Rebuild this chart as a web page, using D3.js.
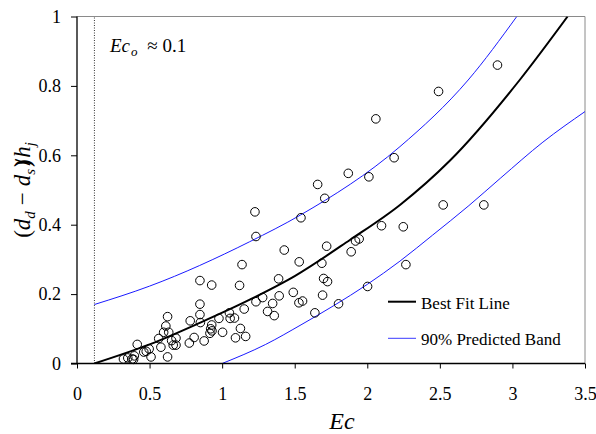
<!DOCTYPE html>
<html>
<head>
<meta charset="utf-8">
<script src="https://cdn.jsdelivr.net/npm/d3@7"></script>
<style>
  body { margin: 0; background: #fff; }
  svg text { font-family: "Liberation Serif", "Tinos", "DejaVu Serif", serif; }
</style>
</head>
<body>
<svg id="chart" width="596" height="434"></svg>
<script>
// observed points (Ec, normalised deformation)
const ecObs = [0.32, 0.35, 0.38, 0.395, 0.39, 0.415, 0.46, 0.477, 0.497, 0.51,
  0.563, 0.578, 0.597, 0.612, 0.624, 0.632, 0.624, 0.652, 0.663, 0.682,
  0.682, 0.774, 0.78, 0.807, 0.847, 0.928, 0.847, 0.847, 0.85, 0.876,
  0.916, 0.921, 0.93, 0.928, 0.978, 1.003, 1.05, 1.055, 1.085, 1.092,
  1.126, 1.162, 1.152, 1.12, 1.137, 1.226, 1.233, 1.233, 1.279, 1.313,
  1.348, 1.359, 1.393, 1.389, 1.428, 1.49, 1.529, 1.554, 1.531, 1.543,
  1.639, 1.658, 1.687, 1.692, 1.699, 1.707, 1.72, 1.726, 1.802, 1.869,
  1.889, 1.919, 1.944, 2.002, 2.011, 2.059, 2.098, 2.185, 2.248, 2.266,
  2.491, 2.523, 2.803, 2.897];
const ratioObs = [0.013, 0.016, 0.013, 0.022, 0.012, 0.055, 0.033, 0.035, 0.042, 0.019,
  0.072, 0.047, 0.09, 0.108, 0.135, 0.09, 0.019, 0.066, 0.053, 0.053,
  0.073, 0.059, 0.123, 0.075, 0.239, 0.226, 0.171, 0.141, 0.118, 0.065,
  0.087, 0.1, 0.094, 0.111, 0.13, 0.09, 0.146, 0.13, 0.131, 0.074,
  0.101, 0.078, 0.157, 0.225, 0.285, 0.437, 0.366, 0.178, 0.19, 0.15,
  0.173, 0.138, 0.195, 0.244, 0.327, 0.205, 0.175, 0.18, 0.293, 0.42,
  0.146, 0.516, 0.289, 0.197, 0.245, 0.476, 0.338, 0.236, 0.172, 0.548,
  0.322, 0.353, 0.359, 0.222, 0.538, 0.705, 0.397, 0.593, 0.394, 0.285,
  0.784, 0.457, 0.457, 0.86];

// best fit line
const fitEc  = [0.12, 0.5, 0.85, 1.19, 1.5, 1.88, 2.225, 2.57, 3.05, 3.38];
const fitVal = [0, 0.055, 0.118, 0.184, 0.252, 0.356, 0.457, 0.585, 0.817, 1.0];
// 90% predicted band
const upperEc  = [0.12, 0.5, 1.19, 1.54, 2.225, 2.695, 3.03];
const upperVal = [0.17, 0.223, 0.351, 0.428, 0.625, 0.817, 1.0];
const lowerEc  = [1.0, 1.3, 1.55, 1.77, 2.0, 2.225, 2.45, 2.7, 2.92, 3.21, 3.5];
const lowerVal = [0, 0.055, 0.113, 0.167, 0.228, 0.295, 0.37, 0.455, 0.535, 0.638, 0.726];

const ecZero = 0.12;
const xTicks = [0, 0.5, 1, 1.5, 2, 2.5, 3, 3.5];
const yTicks = [0, 0.2, 0.4, 0.6, 0.8, 1];

const serif = "'Liberation Serif', 'Tinos', 'DejaVu Serif', serif";

const svg = d3.select("#chart");
const x = d3.scaleLinear().domain([0, 3.5]).range([77, 585]);
const y = d3.scaleLinear().domain([0, 1]).range([363.5, 16.5]);

svg.append("defs").append("clipPath").attr("id", "plotClip")
  .append("rect")
  .attr("x", x(0)).attr("y", y(1))
  .attr("width", x(3.5) - x(0)).attr("height", y(0) - y(1));

// frame: grey top/right
svg.append("path")
  .attr("d", `M${x(0)},${y(1)}H${x(3.5)}V${y(0)}`)
  .attr("fill", "none").attr("stroke", "#8a8a8a").attr("stroke-width", 1);

// vertical dotted line at Ec_o
svg.append("line")
  .attr("x1", x(ecZero)).attr("x2", x(ecZero))
  .attr("y1", y(0)).attr("y2", y(1))
  .attr("stroke", "#333").attr("stroke-width", 1)
  .attr("stroke-dasharray", "1,1.5");

const plot = svg.append("g").attr("clip-path", "url(#plotClip)");
const line = d3.line().x(d => x(d[0])).y(d => y(d[1])).curve(d3.curveMonotoneX);

plot.append("path")
  .datum(upperEc.map((e, i) => [e, upperVal[i]]))
  .attr("d", line).attr("fill", "none").attr("stroke", "#1a1aff").attr("stroke-width", 1);
plot.append("path")
  .datum(lowerEc.map((e, i) => [e, lowerVal[i]]))
  .attr("d", line).attr("fill", "none").attr("stroke", "#1a1aff").attr("stroke-width", 1);
plot.append("path")
  .datum(fitEc.map((e, i) => [e, fitVal[i]]))
  .attr("d", line).attr("fill", "none").attr("stroke", "#000").attr("stroke-width", 2);

svg.append("g")
  .selectAll("circle")
  .data(ecObs.map((e, i) => [e, ratioObs[i]]))
  .join("circle")
  .attr("cx", d => x(d[0]))
  .attr("cy", d => y(d[1]))
  .attr("r", 4.3)
  .attr("fill", "none")
  .attr("stroke", "#000")
  .attr("stroke-width", 1);

// axes
const xAxis = svg.append("g")
  .attr("transform", `translate(0,${y(0)})`)
  .call(d3.axisBottom(x).tickValues(xTicks).tickSize(5).tickPadding(19).tickFormat(d3.format("")));
const yAxis = svg.append("g")
  .attr("transform", `translate(${x(0)},0)`)
  .call(d3.axisLeft(y).tickValues(yTicks).tickSize(6).tickPadding(10).tickFormat(d3.format("")));

[xAxis, yAxis].forEach(a => {
  a.attr("font-family", null);
  a.select(".domain").attr("stroke", "#000").attr("stroke-width", 1.3);
  a.selectAll(".tick line").attr("stroke", "#000");
  a.selectAll(".tick text")
    .style("font-family", serif)
    .style("font-size", "18px").attr("fill", "#000");
});
xAxis.select(".domain").attr("d", `M${x(0) - 6},0H${x(3.5)}`);
yAxis.select(".domain").attr("d", `M0,${y(0)}V${y(1)}`);

// Ec_o annotation
const ann = svg.append("text").attr("x", 110).attr("y", 52)
  .style("font-family", serif).style("font-size", "19px");
ann.append("tspan").text("Ec").style("font-style", "italic");
ann.append("tspan").text("o").style("font-style", "italic").style("font-size", "13px").attr("dy", 4).attr("dx", 1);
ann.append("tspan").text(" ≈ 0.1").attr("dy", -4).attr("dx", 5);

// legend
const legend = svg.append("g");
[["Best Fit Line", "#000", 2, 301.7], ["90% Predicted Band", "#3a3aff", 1, 338.3]].forEach(l => {
  legend.append("line")
    .attr("x1", 388).attr("x2", 416).attr("y1", l[3]).attr("y2", l[3])
    .attr("stroke", l[1]).attr("stroke-width", l[2]);
  legend.append("text")
    .attr("x", 421).attr("y", l[3] + 7)
    .style("font-family", serif)
    .style("font-size", "17px").text(l[0]);
});

// x axis title
svg.append("text")
  .attr("x", 342).attr("y", 429)
  .attr("text-anchor", "middle")
  .style("font-family", serif)
  .style("font-size", "24px").style("font-style", "italic")
  .text("Ec");

// y axis title
const yt = svg.append("text")
  .attr("transform", "translate(30,190) rotate(-90)")
  .attr("text-anchor", "middle")
  .style("font-family", serif)
  .style("font-size", "23px");
yt.append("tspan").text("(");
yt.append("tspan").text("d").style("font-style", "italic");
yt.append("tspan").text("d").style("font-style", "italic").style("font-size", "15px").attr("dy", 5);
yt.append("tspan").text("−").attr("dy", -5).attr("dx", 6);
yt.append("tspan").text("d").style("font-style", "italic").attr("dx", 6);
yt.append("tspan").text("s").style("font-style", "italic").style("font-size", "15px").attr("dy", 5);
yt.append("tspan").text(")").style("font-weight", "900").attr("dy", -5).attr("dx", 2);
yt.append("tspan").text("/").style("font-weight", "900").attr("dx", -6);
yt.append("tspan").text("h").style("font-style", "italic").attr("dx", 1);
yt.append("tspan").text("j").style("font-style", "italic").style("font-size", "15px").attr("dy", 5);
</script>
</body>
</html>
